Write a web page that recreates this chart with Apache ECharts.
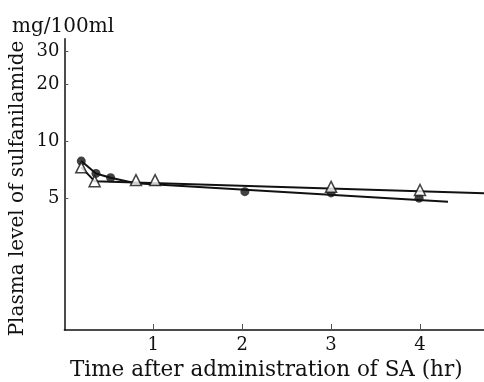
<!DOCTYPE html>
<html><head><meta charset="utf-8">
<script src="https://cdn.jsdelivr.net/npm/echarts@6/dist/echarts.min.js"></script>
<style>html,body{margin:0;padding:0;background:#fff}#c{width:484px;height:382px}</style>
</head><body><div id="c"></div>
<script>
// Filled circles (measured points)
const circleX = [0.19, 0.355, 0.52, 2.03, 3.0, 3.99];
const circleY = [7.86, 6.76, 6.41, 5.41, 5.33, 5.0];
// Open triangles (measured points)
const triX = [0.19, 0.34, 0.805, 1.02, 3.0, 4.0];
const triY = [7.28, 6.15, 6.23, 6.23, 5.74, 5.52];
// Connecting / fitted line for circles
const circleLineX = [0.19, 0.355, 0.52, 0.8, 4.315];
const circleLineY = [7.86, 6.76, 6.41, 6.0, 4.78];
// Connecting / fitted line for triangles
const triLineX = [0.19, 0.34, 4.72];
const triLineY = [7.28, 6.15, 5.30];
// Tick labels
const yTicks = [5, 10, 20, 30];
const xTicks = [1, 2, 3, 4];

const zip = (a, b) => a.map((v, i) => [v, b[i]]);
const font = '"DejaVu Serif", "Liberation Serif", serif';
const chart = echarts.init(document.getElementById('c'), null, {renderer: 'canvas'});
chart.setOption({
  animation: false,
  backgroundColor: '#fff',
  grid: {left: 64.4, right: 0, top: 38.7, bottom: 52},
  graphic: [
    {type: 'text', x: 12, y: 17,
     style: {text: 'mg/100ml', font: '20px ' + font, fill: '#111', verticalAlign: 'top'}},
    {type: 'text', x: 70, y: 359,
     style: {text: 'Time after administration of SA (hr)', font: '21.5px ' + font, fill: '#111', align: 'left', verticalAlign: 'top'}},
    {type: 'text', x: 18, y: 188.5, rotation: Math.PI / 2,
     style: {text: 'Plasma level of sulfanilamide', font: '20px ' + font, fill: '#111', align: 'center', verticalAlign: 'middle'}}
  ],
  xAxis: {
    type: 'value', min: 0, max: 4.72, interval: 1,
    axisLine: {lineStyle: {color: '#111', width: 1.5}},
    axisTick: {inside: true, length: 6, customValues: xTicks, lineStyle: {color: '#555'}},
    axisLabel: {customValues: xTicks, fontFamily: font, fontSize: 18, color: '#111', margin: 6},
    splitLine: {show: false}
  },
  yAxis: {
    type: 'log', logBase: 10, min: 1, max: 35,
    axisLine: {lineStyle: {color: '#111', width: 1.5}},
    axisTick: {inside: true, length: 4, customValues: yTicks, lineStyle: {color: '#555'}},
    axisLabel: {customValues: yTicks, fontFamily: font, fontSize: 18, color: '#111', margin: 5},
    splitLine: {show: false}
  },
  series: [
    {type: 'line', data: zip(circleLineX, circleLineY), showSymbol: false, symbol: 'none',
     lineStyle: {color: '#111', width: 2}, z: 2},
    {type: 'line', data: zip(triLineX, triLineY), showSymbol: false, symbol: 'none',
     lineStyle: {color: '#111', width: 2}, z: 2},
    {type: 'scatter', data: zip(circleX, circleY), symbol: 'circle', symbolSize: 9,
     itemStyle: {color: '#111'}, z: 4},
    {type: 'scatter', data: zip(triX, triY), symbol: 'triangle', symbolSize: [11, 11],
     itemStyle: {color: '#fff', borderColor: '#111', borderWidth: 1.5}, z: 5}
  ]
});
</script></body></html>
